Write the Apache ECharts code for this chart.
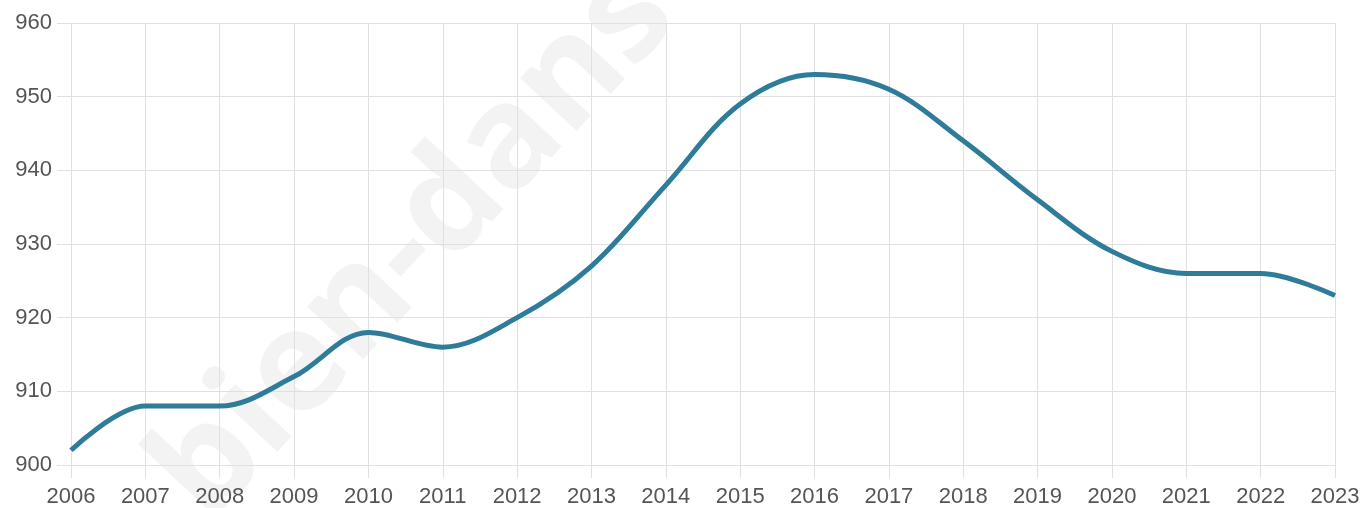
<!DOCTYPE html>
<html>
<head>
<meta charset="utf-8">
<script src="https://cdn.jsdelivr.net/npm/echarts@6/dist/echarts.min.js"></script>
<style>
html, body { margin: 0; padding: 0; background: #fff; }
#chart { width: 1365px; height: 508px; }
</style>
</head>
<body>
<div id="chart"></div>
<script>
var years = ['2006', '2007', '2008', '2009', '2010', '2011', '2012', '2013', '2014',
	'2015', '2016', '2017', '2018', '2019', '2020', '2021', '2022', '2023'];
var values = [902, 908, 908, 912, 918, 916, 920, 927, 938,
	949, 953, 951, 944, 936, 929, 926, 926, 923];
var yMin = 900, yMax = 960, yStep = 10;

var gridColor = '#e0e0e0';
var labelStyle = { color: '#555', fontSize: 22, fontFamily: '"Liberation Sans", Arial, sans-serif' };

var myChart = echarts.init(document.getElementById('chart'));
var option = {
	animation: false,
	grid: { left: 71, right: 30, top: 23, bottom: 43, containLabel: false, outerBoundsMode: 'none' },
	graphic: [{
		type: 'text',
		x: 415,
		y: 245,
		rotation: 47 * Math.PI / 180,
		z: 0,
		silent: true,
		style: {
			text: 'bien-dans',
			x: 0,
			y: 0,
			fill: '#f3f3f3',
			font: 'bold 141px "Open Sans", "Noto Sans", sans-serif',
			textAlign: 'center',
			textVerticalAlign: 'middle'
		}
	}],
	xAxis: {
		type: 'category',
		boundaryGap: false,
		data: years,
		axisLine: { show: true, lineStyle: { color: gridColor, width: 1 } },
		axisTick: { show: true, length: 13, lineStyle: { color: gridColor } },
		splitLine: { show: true, lineStyle: { color: gridColor, width: 1 } },
		axisLabel: Object.assign({ margin: 21 }, labelStyle)
	},
	yAxis: {
		type: 'value',
		min: yMin,
		max: yMax,
		interval: yStep,
		axisLine: { show: true, lineStyle: { color: gridColor, width: 1 } },
		axisTick: { show: true, length: 14, lineStyle: { color: gridColor } },
		splitLine: { show: true, lineStyle: { color: gridColor, width: 1 } },
		axisLabel: Object.assign({ margin: 19 }, labelStyle)
	},
	series: [{
		type: 'line',
		data: values,
		smooth: 0.35,
		symbol: 'none',
		z: 5,
		lineStyle: { color: '#2e7b9a', width: 5 }
	}]
};
myChart.setOption(option);
</script>
</body>
</html>
